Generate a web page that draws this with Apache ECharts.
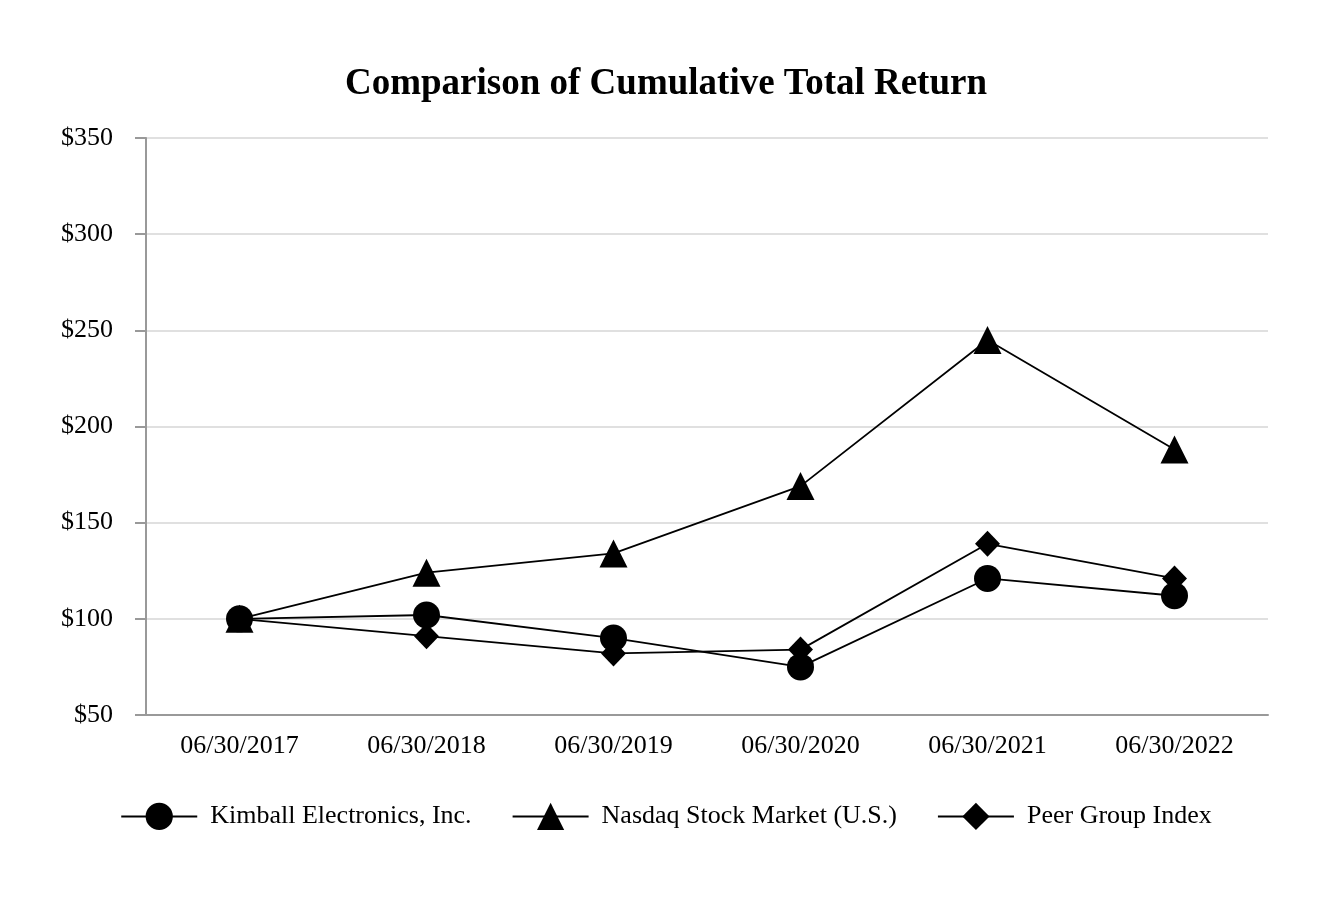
<!DOCTYPE html>
<html>
<head>
<meta charset="utf-8">
<script src="https://cdn.jsdelivr.net/npm/echarts@6/dist/echarts.min.js"></script>
<style>html,body{margin:0;padding:0;background:#fff;}#c{width:1332px;height:904px;}</style>
</head>
<body>
<div id="c"></div>
<script>
const categories = ['06/30/2017','06/30/2018','06/30/2019','06/30/2020','06/30/2021','06/30/2022'];
const kimball = [100, 102, 90, 75, 121, 112];
const nasdaq = [100, 124, 134, 169, 245, 188];
const peer = [100, 91, 82, 84, 139, 121];
const yTicks = [50, 350, 50]; // min, max, interval

const font = '"Liberation Serif", "Times New Roman", serif';
const chart = echarts.init(document.getElementById('c'));
function line(name, data, symbol, size, z) {
  return {
    name, type: 'line', data, symbol, symbolSize: size, z,
    lineStyle: {color: '#000', width: 1.8},
    itemStyle: {color: '#000'},
    emphasis: {disabled: true}
  };
}
chart.setOption({
  animation: false,
  title: {
    text: 'Comparison of Cumulative Total Return',
    left: 'center', top: 61,
    textStyle: {fontFamily: font, fontWeight: 'bold', fontSize: 37, color: '#000'}
  },
  grid: {left: 146, right: 64, top: 138, bottom: 189},
  legend: {
    bottom: 69, left: 'center',
    itemWidth: 76, itemHeight: 34, itemGap: 40,
    textStyle: {fontFamily: font, fontSize: 26, color: '#000', padding: [0, 0, 0, 8]},
    data: ['Kimball Electronics, Inc.', 'Nasdaq Stock Market (U.S.)', 'Peer Group Index']
  },
  xAxis: {
    type: 'category', data: categories, boundaryGap: true,
    axisLine: {lineStyle: {color: '#999', width: 2}},
    axisTick: {alignWithLabel: true, length: 10, lineStyle: {color: '#999', width: 2}},
    axisLabel: {fontFamily: font, fontSize: 26, color: '#000', margin: 18}
  },
  yAxis: {
    type: 'value', min: yTicks[0], max: yTicks[1], interval: yTicks[2],
    axisLine: {show: true, lineStyle: {color: '#999', width: 2}},
    axisTick: {show: true, length: 11, lineStyle: {color: '#999', width: 2}},
    splitLine: {lineStyle: {color: '#e0e0e0', width: 2}},
    axisLabel: {fontFamily: font, fontSize: 26, color: '#000', margin: 33, formatter: v => '$' + v}
  },
  series: [
    line('Kimball Electronics, Inc.', kimball, 'circle', 27, 5),
    line('Nasdaq Stock Market (U.S.)', nasdaq, 'triangle', 28, 3),
    line('Peer Group Index', peer, 'diamond', [25, 26], 4)
  ]
});
</script>
</body>
</html>
